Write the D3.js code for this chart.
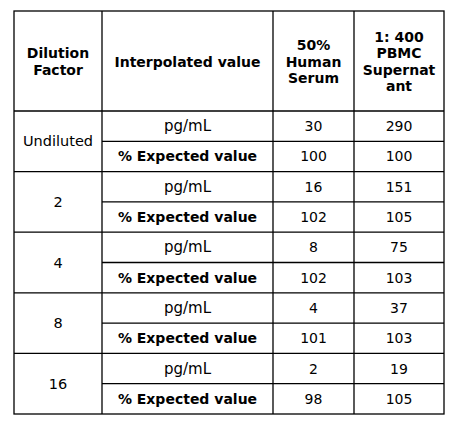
<!DOCTYPE html><html><head><meta charset="utf-8"><script src="https://cdn.jsdelivr.net/npm/d3@7"></script>
<style>body{margin:0;background:#fff}</style></head><body><svg id="c" width="463" height="428"></svg>
<script>
const headers=[["Dilution","Factor"],["Interpolated value"],["50%","Human","Serum"],["1: 400","PBMC","Supernat","ant"]];
const factors=["Undiluted","2","4","8","16"];
const measures=["pg/mL","% Expected value"];
const serum=[30,100,16,102,8,102,4,101,2,98];
const pbmc=[290,100,151,105,75,103,37,103,19,105];
const svg=d3.select("#c");
const colX=[14,102,273,354,444];
const y=d3.scaleLinear().domain([0,10]).range([111,414]);
const topY=11,font="DejaVu Sans";
const g=svg.append("g").attr("font-family",font).attr("fill","#000");
headers.forEach((h,i)=>{
  const cx=(colX[i]+colX[i+1])/2, n=h.length, lh=16.5, cy=(topY+111)/2;
  h.forEach((t,j)=>g.append("text").attr("x",cx).attr("y",cy+(j-(n-1)/2)*lh+5.5).attr("text-anchor","middle").attr("font-weight","bold").attr("font-size",14).text(t));
});
factors.forEach((f,i)=>g.append("text").attr("x",(colX[0]+colX[1])/2).attr("y",y(2*i+1)+5).attr("text-anchor","middle").attr("font-size",14.5).text(f));
d3.range(10).forEach(r=>{
  const cy=(y(r)+y(r+1))/2+5, m=r%2;
  g.append("text").attr("x",(colX[1]+colX[2])/2).attr("y",cy).attr("text-anchor","middle").attr("font-size",m?14:15).attr("font-weight",m?"bold":"normal").text(measures[m]);
  g.append("text").attr("x",(colX[2]+colX[3])/2).attr("y",cy).attr("text-anchor","middle").attr("font-size",14).text(serum[r]);
  g.append("text").attr("x",(colX[3]+colX[4])/2).attr("y",cy).attr("text-anchor","middle").attr("font-size",14).text(pbmc[r]);
});
const L=svg.append("g").attr("stroke","#000").attr("stroke-width",1.3);
L.append("rect").attr("x",colX[0]).attr("y",topY).attr("width",colX[4]-colX[0]).attr("height",414-topY).attr("fill","none");
colX.slice(1,4).forEach(x=>L.append("line").attr("x1",x).attr("x2",x).attr("y1",topY).attr("y2",414));
d3.range(0,10).forEach(r=>L.append("line").attr("x1",r%2?colX[1]:colX[0]).attr("x2",colX[4]).attr("y1",y(r)).attr("y2",y(r)));
</script></body></html>
